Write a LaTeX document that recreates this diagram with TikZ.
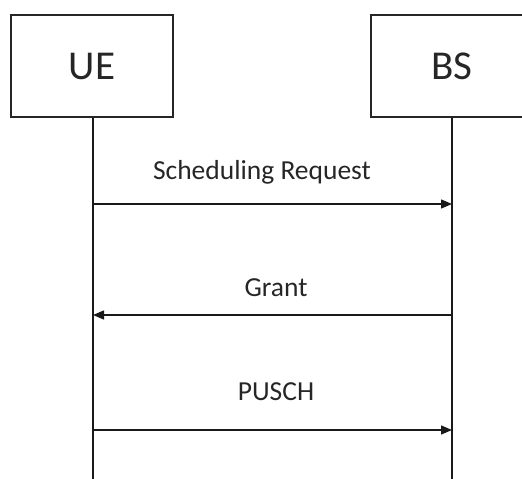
\documentclass[tikz,border=0pt]{standalone}
\usepackage{fontspec}
\setmainfont{Carlito}
\usetikzlibrary{arrows.meta}
\begin{document}
\begin{tikzpicture}[x=1pt,y=-1pt,
  entity/.style={draw=black!85,line width=1.6pt,minimum width=162pt,minimum height=102pt,inner sep=0pt,font=\fontsize{41}{44}\selectfont,text=black!85},
  life/.style={draw=black!90,line width=1.4pt},
  msg/.style={draw=black!90,line width=1.4pt,-{Triangle[length=11pt,width=9pt]}},
  lbl/.style={font=\fontsize{27.5}{30}\selectfont,text=black!85,inner sep=0pt}]
\useasboundingbox (0,0) rectangle (522,479);
\clip (0,0) rectangle (522,479);
\node[entity] (ue) at (92,66) {UE};
\node[entity] (bs) at (452,66) {BS};
\coordinate (ueend) at (93,479);
\coordinate (bsend) at (452,479);
\draw[life] (ue.south -| ueend) -- (ueend);
\draw[life] (bs.south) -- (bsend);
\coordinate (a1) at (93,204);
\coordinate (b1) at (452,204);
\coordinate (a2) at (93,315);
\coordinate (b2) at (452,315);
\coordinate (a3) at (93,430);
\coordinate (b3) at (452,430);
\draw[msg] (a1) -- (b1);
\draw[msg] (b2) -- (a2);
\draw[msg] (a3) -- (b3);
\node[lbl] (l1) at (262,172) {Scheduling Request};
\node[lbl] (l2) at (276,288) {Grant};
\node[lbl] (l3) at (276,392) {PUSCH};
\end{tikzpicture}
\end{document}
